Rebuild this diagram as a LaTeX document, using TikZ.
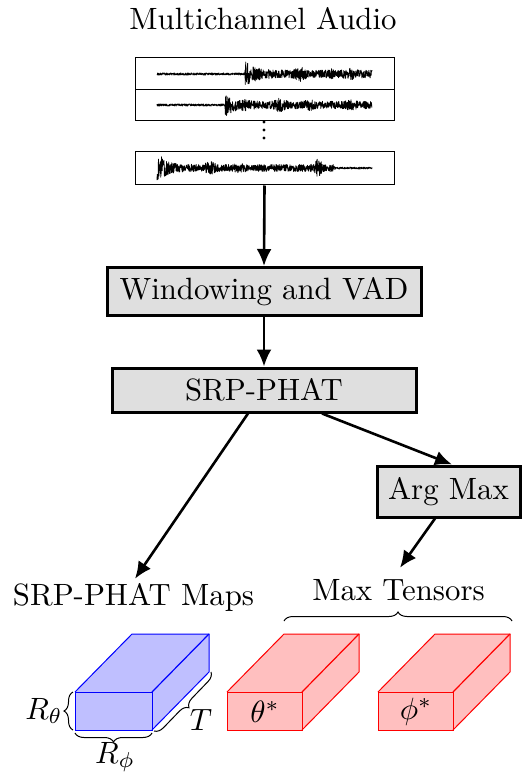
\documentclass[tikz,border=0pt]{standalone}
\usetikzlibrary{arrows.meta,decorations.pathreplacing,calc}
\newcommand{\bt}[1]{\scalebox{3.08}{#1}}
\newcommand{\tcube}[4]{%
  \fill[#3!25] (#1,#2) rectangle ++(#4,38);
  \fill[#3!25] (#1,#2) -- ++(57,-58) -- ++(#4,0) -- ++(0,38) -- ++(-57,58) -- ++(0,-38) -- cycle;
  \draw[#3,line width=1pt,line join=miter] (#1,#2) rectangle ++(#4,38);
  \draw[#3,line width=1pt] (#1,#2) -- ++(57,-58) -- ++(#4,0) -- ++(0,38) -- ++(-57,58);
  \draw[#3,line width=1.2pt] (#1+#4,#2) -- ++(57,-58);
}
\begin{document}
\begin{tikzpicture}[x=1pt,y=-1pt,
  arr/.style={line width=2.6pt,-{Latex[length=17pt,width=15pt]}},
  procbox/.style={draw,line width=3pt,fill=gray!25,inner sep=0pt},
  wavebox/.style={draw,line width=1pt,minimum width=259pt,inner sep=0pt},
  lab/.style={inner sep=0pt},
  wave/.style={line width=0.8pt,line join=round},
  brc/.style={decorate,decoration={brace,amplitude=9pt},line width=1pt},
  declare function={bp(\x,\c,\a,\w)=\a*exp(max(-((\x-\c)/\w)*((\x-\c)/\w),-9));}
]
\useasboundingbox (0,0) rectangle (523,775);

% title
\node[lab,anchor=base] (title) at (263,30) {\bt{Multichannel Audio}};

% waveform boxes
\node[wavebox,minimum height=32pt] (w1) at (264.5,74) {};
\node[wavebox,minimum height=31pt] (w2) at (264.5,105.5) {};
\node[wavebox,minimum height=33pt] (w3) at (264.5,168.5) {};
\foreach \yy in {122,130,138} \fill (264,\yy) circle (1.6pt);

\pgfmathsetseed{12}
\draw[wave] plot[domain=157:372,samples=900,variable=\x]
  (\x,{74+rand*((\x<245)*1.1+(\x>=245)*(4+9*exp(-max(\x-245,0)/9))+bp(\x,262,2,4)+bp(\x,300,3.5,5)+bp(\x,330,1.5,4)+bp(\x,350,1.8,6))});
\draw[wave] plot[domain=157:372,samples=900,variable=\x]
  (\x,{105+rand*((\x<225)*1.1+(\x>=225)*(3.8+8*exp(-max(\x-225,0)/9))+bp(\x,245,1.5,4)+bp(\x,280,3.5,5)+bp(\x,310,1.8,5)+bp(\x,350,1.5,6))});
\draw[wave] plot[domain=157:372,samples=900,variable=\x]
  (\x,{168+rand*(3.6+10*exp(-max(\x-160,0)/7)+bp(\x,210,3,5)+bp(\x,240,1.5,5)+bp(\x,318,5.5,4)-(\x>335)*2.6)});

% process boxes
\node[procbox,minimum width=314pt,minimum height=48pt] (vad) at (264,291.5) {\bt{Windowing and VAD}};
\node[procbox,minimum width=304pt,minimum height=44pt] (srp) at (264,390) {\bt{SRP-PHAT}};
\node[procbox,minimum width=143pt,minimum height=51pt] (argmax) at (448.5,491.5) {\bt{Arg Max}};

% labels
\node[lab,anchor=base] (maps) at (133.5,605) {\bt{SRP-PHAT Maps}};
\node[lab,anchor=base] (maxt) at (398.5,600) {\bt{Max Tensors}};

% arrows
\draw[arr] (w3.south) -- (vad.north);
\draw[arr] (vad.south) -- (srp.north);
\draw[arr] ([xshift=-16pt]srp.south) -- ([shift={(1.5pt,4pt)}]maps.north);
\draw[arr] ([xshift=58pt]srp.south) -- ([xshift=3.5pt]argmax.north);
\draw[arr] ([xshift=-13.5pt]argmax.south) -- ([shift={(1.5pt,11pt)}]maxt.north);

% brace over max tensors
\coordinate (mbL) at (284,621);
\coordinate (mbR) at (512,621);
\draw[brc] (mbL) -- (mbR);

% cubes
\tcube{75}{692}{blue}{77}
\tcube{227}{692}{red}{75}
\tcube{378}{692}{red}{75}

\node[lab] (th) at (265,712) {\bt{$\theta^*$}};
\node[lab] (ph) at (416,712) {\bt{$\phi^*$}};

% braces on blue cube
\coordinate (rtB) at (73,730);
\coordinate (rtT) at (73,692);
\draw[brc] (rtB) -- (rtT);
\coordinate (rpR) at (152,733);
\coordinate (rpL) at (75,733);
\draw[brc] (rpR) -- (rpL);
\coordinate (tT) at (211,672);
\coordinate (tB) at (154,731);
\draw[brc] (tT) -- (tB);

\node[lab] (Rth) at (44,711) {\bt{$R_\theta$}};
\node[lab] (Rph) at (115,757) {\bt{$R_\phi$}};
\node[lab] (Tl) at (201,720) {\bt{$T$}};
\end{tikzpicture}
\end{document}
